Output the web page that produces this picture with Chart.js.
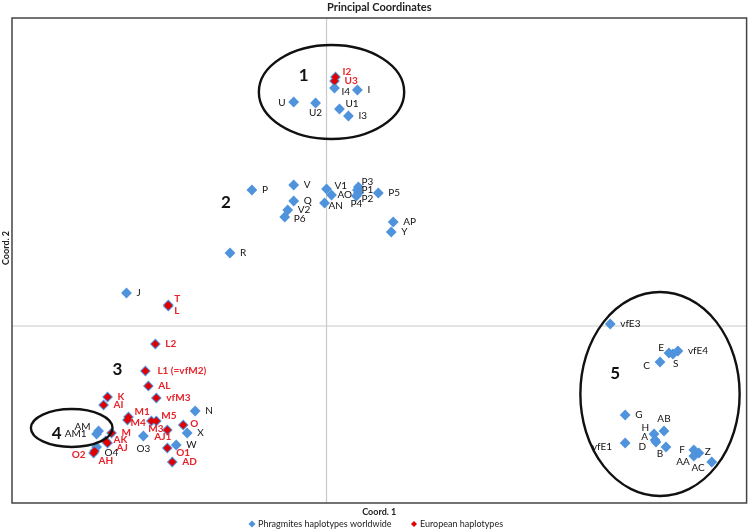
<!DOCTYPE html>
<html>
<head>
<meta charset="utf-8">
<script src="https://cdn.jsdelivr.net/npm/chart.js@4.4.0/dist/chart.umd.min.js"></script>
<style>
  html, body { margin: 0; padding: 0; background: #fff; }
  #wrap { width: 752px; height: 532px; position: relative; }
</style>
</head>
<body>
<div id="wrap"><canvas id="pcoa"></canvas></div>
<script>
// pcoa.js — Principal Coordinates scatter of Phragmites haplotypes

// Haplotypes worldwide (blue only)
const worldNames = ['U', 'U2', 'I4', 'I', 'U1', 'I3',
  'P', 'V', 'V1', 'AO', 'AN', 'Q', 'V2', 'P6', 'P3', 'P1', 'P2', 'P4', 'P5', 'AP', 'Y', 'R', 'J',
  'N', 'X', 'W', 'O3', 'AM', 'AM1', 'O4',
  'vfE3', 'E', 'S', 'vfE4', 'C', 'G', 'AB', 'H', 'A', 'D', 'vfE1', 'B', 'F', 'Z', 'AA', 'AC'];
const worldX = [-0.33, -0.11, 0.08, 0.31, 0.13, 0.22,
  -0.75, -0.33, 0.00, 0.05, -0.02, -0.33, -0.39, -0.42, 0.32, 0.31, 0.32, 0.30, 0.52, 0.67, 0.65, -0.97, -2.01,
  -1.32, -1.40, -1.51, -1.84, -2.29, -2.31, -2.31,
  2.85, 3.44, 3.48, 3.53, 3.35, 3.00, 3.39, 3.29, 3.30, 3.31, 3.00, 3.41, 3.69, 3.74, 3.69, 3.87];
const worldY = [2.24, 2.23, 2.38, 2.36, 2.17, 2.10,
  1.36, 1.41, 1.37, 1.31, 1.23, 1.25, 1.16, 1.09, 1.39, 1.36, 1.33, 1.30, 1.33, 1.04, 0.94, 0.73, 0.33,
  -0.85, -1.07, -1.19, -1.10, -1.05, -1.08, -1.21,
  0.02, -0.27, -0.28, -0.25, -0.36, -0.89, -1.05, -1.08, -1.14, -1.16, -1.17, -1.21, -1.24, -1.27, -1.30, -1.36];

// European haplotypes (red)
const euroNames = ['I2', 'U3', 'T', 'L', 'L2', 'L1 (=vfM2)', 'AL', 'vfM3', 'K', 'AI', 'M1', 'M4', 'M5', 'M3',
  'AJ1', 'O', 'O1', 'AD', 'M', 'AK', 'AJ', 'O2', 'AH'];
const euroX = [0.09, 0.08, -1.59, -1.59, -1.72, -1.82, -1.79, -1.71, -2.20, -2.24, -1.99, -2.00, -1.71, -1.76,
  -1.60, -1.44, -1.60, -1.55, -2.16, -2.22, -2.20, -2.33, -2.34];
const euroY = [2.49, 2.45, 0.21, 0.20, -0.18, -0.45, -0.60, -0.72, -0.71, -0.79, -0.91, -0.94, -0.95, -0.95,
  -1.04, -0.99, -1.22, -1.36, -1.07, -1.15, -1.17, -1.25, -1.27];

// Groups
const groupNames = ['1', '2', '3', '4', '5'];
const groupX = [-0.23, -1.01, -2.10, -2.71, 2.90];
const groupY = [2.50, 1.23, -0.44, -1.08, -0.48];
const ellipseCX = [0.05, -2.56, 3.35];
const ellipseCY = [2.34, -1.02, -0.68];
const ellipseRX = [0.73, 0.41, 0.80];
const ellipseRY = [0.47, 0.19, 1.02];

// label placement [dx, dy, align] — default is right of the marker
const labelPlace = {
  U: [-8, 1, 'right'], U2: [0, 10, 'center'], I4: [7, 4], U1: [6, -5],
  V1: [8, -3], AO: [6, 0], AN: [4, 3], P6: [9, 2],
  P3: [3, -5], P1: [4, 0], P2: [3, 6], P4: [-6, 8],
  O3: [0, 13, 'center'], AM: [-8, -4, 'right'], AM1: [-10, 0, 'right'], O4: [8, 6],
  E: [-5, -5, 'right'], S: [0, 10], C: [-10, 4, 'right'], AB: [0, -12, 'center'],
  H: [-5, -6, 'right'], A: [-7, -3, 'right'], D: [-10, 5, 'right'], vfE1: [-13, 4, 'right'],
  B: [-6, 7, 'center'], F: [-9, 0, 'right'], Z: [6, -1], AA: [-4, 6, 'right'], AC: [-7, 6, 'right'],
  I2: [7, -5], T: [6, -6], L: [6, 5], 'L1 (=vfM2)': [12, 0],
  M1: [6, -5], M4: [3, 3], M5: [5, -5], M3: [-3, 8], AJ1: [-13, 7], O: [7, -1],
  O1: [9, 5], AK: [8, -1], AJ: [9, 5], O2: [-9, 4, 'right'], AH: [5, 8]
};

const BLUE = '#4f93dc';
const RED = '#e00000';
const RED_TEXT = '#e8232b';
const FONT = 'Lato, "Open Sans", sans-serif';

const toPoints = (xs, ys) => xs.map((v, i) => ({ x: v, y: ys[i] }));

const decor = {
  id: 'decor',
  beforeDatasetsDraw(chart) {
    const { ctx, chartArea: a, scales: { x, y } } = chart;
    ctx.save();
    ctx.strokeStyle = '#c9c9c9';
    ctx.lineWidth = 1.2;
    const x0 = x.getPixelForValue(0), y0 = y.getPixelForValue(0);
    ctx.beginPath();
    ctx.moveTo(x0, a.top); ctx.lineTo(x0, a.bottom);
    ctx.moveTo(a.left, y0); ctx.lineTo(a.right, y0);
    ctx.stroke();
    ctx.restore();
  },
  afterDatasetsDraw(chart) {
    const { ctx, chartArea: a, scales: { x, y } } = chart;
    ctx.save();
    ctx.textBaseline = 'middle';

    const drawLabels = (names, xs, ys, color, weight) => {
      ctx.fillStyle = color;
      ctx.font = weight + ' 10px ' + FONT;
      names.forEach((n, i) => {
        const p = labelPlace[n] || [10, 0];
        ctx.textAlign = p[2] || 'left';
        ctx.fillText(n, x.getPixelForValue(xs[i]) + p[0], y.getPixelForValue(ys[i]) + p[1]);
      });
    };
    drawLabels(worldNames, worldX, worldY, '#111', 'normal');
    drawLabels(euroNames, euroX, euroY, RED_TEXT, 'bold');

    // group ellipses
    ctx.strokeStyle = '#111';
    ctx.lineWidth = 2.4;
    ellipseCX.forEach((cx, i) => {
      const px = x.getPixelForValue(cx), py = y.getPixelForValue(ellipseCY[i]);
      const rx = Math.abs(x.getPixelForValue(cx + ellipseRX[i]) - px);
      const ry = Math.abs(y.getPixelForValue(ellipseCY[i] + ellipseRY[i]) - py);
      ctx.beginPath();
      ctx.ellipse(px, py, rx, ry, 0, 0, Math.PI * 2);
      ctx.stroke();
    });

    // group numbers
    ctx.fillStyle = '#111';
    ctx.font = 'bold 17px ' + FONT;
    ctx.textAlign = 'center';
    groupNames.forEach((g, i) => ctx.fillText(g, x.getPixelForValue(groupX[i]), y.getPixelForValue(groupY[i])));

    // frame
    ctx.strokeStyle = '#444';
    ctx.lineWidth = 1.5;
    ctx.strokeRect(a.left, a.top, a.right - a.left, a.bottom - a.top);

    // titles
    ctx.fillStyle = '#222';
    ctx.font = 'bold 11px ' + FONT;
    ctx.fillText('Principal Coordinates', (a.left + a.right) / 2, 7);
    ctx.font = 'bold 9px ' + FONT;
    ctx.fillText('Coord. 1', (a.left + a.right) / 2, a.bottom + 9);
    ctx.save();
    ctx.translate(6, 248);
    ctx.rotate(-Math.PI / 2);
    ctx.fillText('Coord. 2', 0, 0);
    ctx.restore();

    // legend
    const ly = a.bottom + 21;
    const diamond = (cx, r, color) => {
      ctx.fillStyle = color;
      ctx.beginPath();
      ctx.moveTo(cx - r, ly); ctx.lineTo(cx, ly - r); ctx.lineTo(cx + r, ly); ctx.lineTo(cx, ly + r);
      ctx.closePath(); ctx.fill();
    };
    ctx.font = '9px ' + FONT;
    ctx.textAlign = 'left';
    diamond(252, 3.5, BLUE);
    ctx.fillStyle = '#222';
    ctx.fillText('Phragmites haplotypes worldwide', 258, ly);
    diamond(414, 3, RED);
    ctx.fillStyle = '#222';
    ctx.fillText('European haplotypes', 420, ly);
    ctx.restore();
  }
};

new Chart(document.getElementById('pcoa'), {
  type: 'scatter',
  data: {
    datasets: [
      {
        label: 'European haplotypes',
        data: toPoints(euroX, euroY),
        pointStyle: 'rectRot',
        pointRadius: 4,
        backgroundColor: RED,
        borderWidth: 0,
        order: 0
      },
      {
        label: 'Phragmites haplotypes worldwide',
        data: toPoints(worldX.concat(euroX), worldY.concat(euroY)),
        pointStyle: 'rectRot',
        pointRadius: 5.4,
        backgroundColor: BLUE,
        borderWidth: 0,
        order: 1
      }
    ]
  },
  options: {
    responsive: true,
    maintainAspectRatio: false,
    animation: false,
    layout: { padding: { left: 12, right: 2, top: 18, bottom: 29 } },
    plugins: { legend: { display: false }, tooltip: { enabled: false } },
    scales: {
      x: { type: 'linear', display: false, min: -3.16, max: 4.22 },
      y: { type: 'linear', display: false, min: -1.77, max: 3.08 }
    }
  },
  plugins: [decor]
});
</script>
</body>
</html>
